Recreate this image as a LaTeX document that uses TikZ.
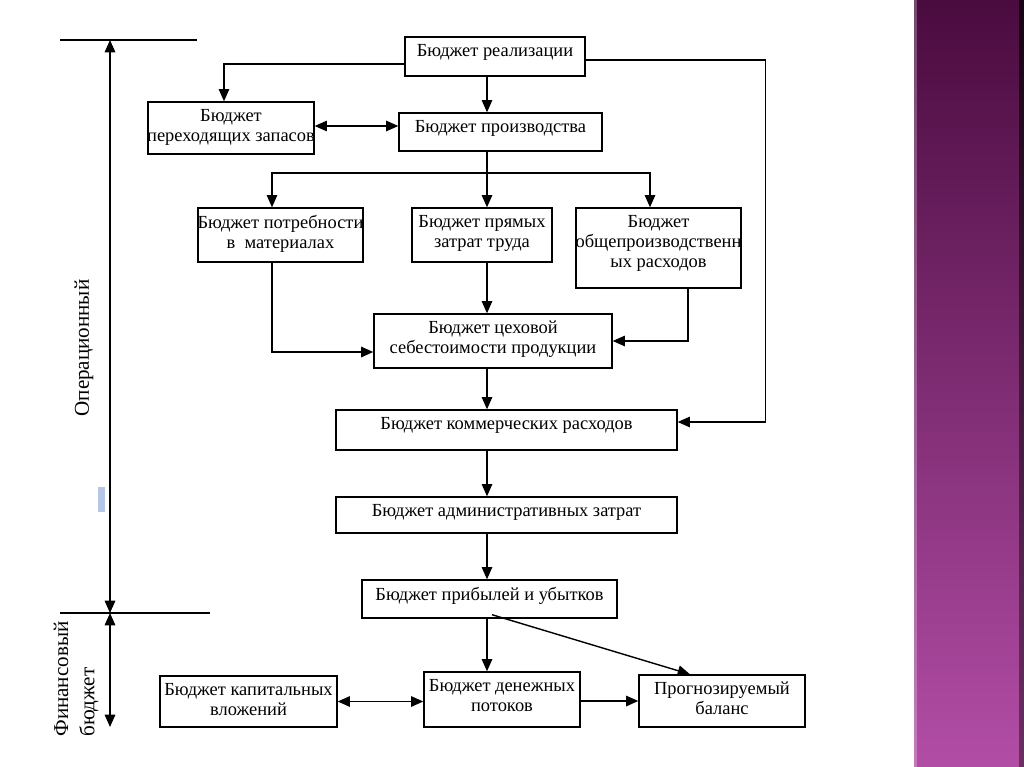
\documentclass[tikz,border=0pt]{standalone}
\usepackage{fontspec}
\setmainfont{Liberation Serif}
\usepackage{tikz}
\usetikzlibrary{calc,arrows.meta,positioning}
\definecolor{bandtop}{HTML}{4A0B3F}
\definecolor{bandbot}{HTML}{B24DA6}
\definecolor{selblue}{HTML}{B4C7E7}
\tikzset{
bud/.style={rectangle,draw=black,fill=white,inner sep=0pt},
btxt/.style={anchor=north,align=center,inner sep=1pt,yshift=-3pt,
font=\fontsize{10.5}{11.5}\selectfont},
arr/.style={-{Triangle[length=7pt,width=6pt]}},
arrs/.style={{Triangle[length=7pt,width=6pt]}-{Triangle[length=7pt,width=6pt]}},
side/.style={rotate=90,align=left,inner sep=0pt,
font=\fontsize{12}{15}\selectfont}
}

\begin{document}
\begin{tikzpicture}[x=0.02cm,y=-0.02cm,thick]
\useasboundingbox (0,0) rectangle (1024,767);

% purple band on the right
\shade[top color=bandtop,bottom color=bandbot] (914,0) rectangle (1024,767);
\fill[white,opacity=.25] (914,0) rectangle (917,767);
\shade[top color=black!70!bandtop,bottom color=black!40!bandbot] (1019,0) rectangle (1024,767);

% budgets
\node[bud,minimum width=3.6cm,minimum height=0.78cm,label={[btxt]north:Бюджет реализации}] (real) at (495,56.5) {};
\node[bud,minimum width=4.06cm,minimum height=0.76cm,label={[btxt]north:Бюджет производства}] (proizv) at (500.5,132) {};
\node[bud,minimum width=3.32cm,minimum height=1.04cm,label={[btxt]north:{Бюджет\\переходящих запасов}}] (zapas) at (231,128) {};
\node[bud,minimum width=3.3cm,minimum height=1.08cm,label={[btxt]north:{Бюджет потребности\\в\ \ материалах}}] (potreb) at (280.5,235) {};
\node[bud,minimum width=2.8cm,minimum height=1.08cm,label={[btxt]north:{Бюджет прямых\\затрат труда}}] (pryam) at (482,235) {};
\node[bud,minimum width=3.3cm,minimum height=1.6cm,label={[btxt]north:{Бюджет\\общепроизводственн\\ых расходов}}] (obshch) at (658.5,248) {};
\node[bud,minimum width=4.76cm,minimum height=1.08cm,label={[btxt]north:{Бюджет цеховой\\себестоимости продукции}}] (tsekh) at (493,341) {};
\node[bud,minimum width=6.82cm,minimum height=0.8cm,label={[btxt]north:Бюджет коммерческих расходов}] (komm) at (506.5,430) {};
\node[bud,minimum width=6.82cm,minimum height=0.72cm,label={[btxt]north:Бюджет административных затрат}] (admin) at (506.5,515) {};
\node[bud,minimum width=5.1cm,minimum height=0.76cm,label={[btxt]north:Бюджет прибылей и убытков}] (pribyl) at (489.5,599) {};
\node[bud,minimum width=3.54cm,minimum height=1.02cm,label={[btxt]north:{Бюджет капитальных\\вложений}}] (kapital) at (248.5,701.5) {};
\node[bud,minimum width=3.12cm,minimum height=1.1cm,label={[btxt]north:{Бюджет денежных\\потоков}}] (denezh) at (502,699.5) {};
\node[bud,minimum width=3.32cm,minimum height=1.04cm,label={[btxt]north:{Прогнозируемый\\баланс}}] (prognoz) at (722,701) {};

% links
\coordinate (ax) at (487,0);
\coordinate (fork) at (487,173);
\draw[arr] (real.south -| ax) -- (proizv.north -| ax);
\draw[arr] ($(real.west)+(0,7.5)$) -| ($(zapas.north)+(-7,0)$);
\draw[arr] ($(real.east)+(0,3.5)$) -- ++(180,0) |- ($(komm.east)+(0,-8)$);
\draw[arrs] ($(zapas.east)+(0,-2)$) -- ($(proizv.west)+(0,-6)$);
\draw (proizv.south -| ax) -- (fork);
\draw[arr] (fork) -| ($(potreb.north)+(-8.5,0)$);
\draw[arr] (fork) -| ($(obshch.north)+(-8.5,0)$);
\draw[arr] (fork) -- (pryam.north -| ax);
\draw[arr] ($(potreb.south)+(-8.5,0)$) |- ($(tsekh.west)+(0,11)$);
\draw[arr] (pryam.south -| ax) -- (tsekh.north -| ax);
\draw[arr] ($(obshch.south)+(29.5,0)$) |- (tsekh.east);
\draw[arr] (tsekh.south -| ax) -- (komm.north -| ax);
\draw[arr] (komm.south -| ax) -- (admin.north -| ax);
\draw[arr] (admin.south -| ax) -- (pribyl.north -| ax);
\draw[arr] (pribyl.south -| ax) -- (denezh.north -| ax);
\draw[arr] ($(pribyl.south)+(2.5,-4)$) -- ($(prognoz.north)+(-32,0)$);
\draw[arrs] (kapital.east) -- (kapital.east -| denezh.west);
\draw[arr] (denezh.east |- prognoz.west) -- (prognoz.west);

% scale on the left
\coordinate (t0) at (60,40);
\coordinate (t1) at (197,40);
\coordinate (m0) at (60,613);
\coordinate (m1) at (210,613);
\coordinate (sc) at (110,0);
\coordinate (fb) at (110,727);
\draw (t0) -- (t1);
\draw (m0) -- (m1);
\draw[arrs] (t0 -| sc) -- (m0 -| sc);
\draw[arrs] (m0 -| sc) -- (fb);
\node[side] (oper) at (84,348) {Операционный};
\node[side] (fin) at (76,679) {Финансовый\\бюджет};
\fill[selblue] (98,487) rectangle (105,512);
\end{tikzpicture}
\end{document}
